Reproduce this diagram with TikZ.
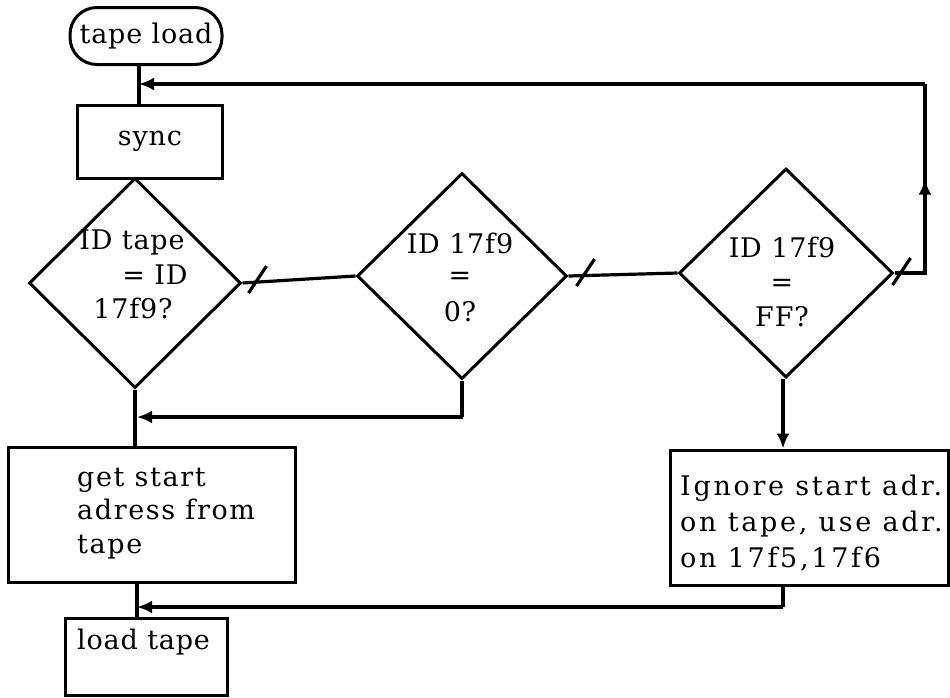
\documentclass[tikz,border=0pt]{standalone}
\usepackage{fontspec}
\setmainfont{DejaVu Serif}
\newfontfamily\fa[LetterSpace=3]{DejaVu Serif}
\newfontfamily\fb[LetterSpace=6]{DejaVu Serif}
\newfontfamily\fc[LetterSpace=10]{DejaVu Serif}
\usetikzlibrary{shapes.geometric,arrows.meta,decorations.markings,calc}
\begin{document}
\begin{tikzpicture}[x=1pt,y=-1pt,
  conn/.style={line width=3.2pt},
  shp/.style={draw,line width=3pt,inner sep=0pt},
  boxnode/.style={shp,rectangle},
  decide/.style={shp,diamond},
  txt/.style={inner sep=0pt,font=\fa\fontsize{27}{33}\selectfont},
  arr/.style={-{Latex[length=15pt,width=13pt]}},
  slashmark/.style={line width=3.2pt}]
\useasboundingbox (0,0) rectangle (950,697);
\fill[white] (0,0) rectangle (950,697);
% nodes
\node[boxnode,rounded corners=27pt,minimum width=152pt,minimum height=57pt] (tl) at (146,36) {};
\node[txt] (tlt) at (146,36) {tape load};
\node[boxnode,minimum width=145pt,minimum height=73pt] (sync) at (150,141.5) {};
\node[txt] (synct) at (150,141) {sync};
\node[decide,minimum width=212pt,minimum height=210pt] (d1) at (135,283) {};
\node[txt] (d1a) at (132,242) {ID tape};
\node[txt] (d1b) at (155,275) {= ID};
\node[txt] (d1c) at (133,308) {17f9?};
\node[decide,minimum width=210pt,minimum height=206pt] (d2) at (462,276) {};
\node[txt] (d2a) at (460,243) {ID 17f9};
\node[txt] (d2b) at (460,278) {=};
\node[txt] (d2c) at (460,312) {0?};
\node[decide,minimum width=214pt,minimum height=209pt] (d3) at (786,273) {};
\node[txt] (d3a) at (782,247) {ID 17f9};
\node[txt] (d3b) at (782,285) {=};
\node[txt] (d3c) at (782,317) {FF?};
\node[boxnode,minimum width=287pt,minimum height=135pt] (gsa) at (151.5,514.5) {};
\node[txt,anchor=west,align=left,font=\fb\fontsize{27}{33.5}\selectfont] (gsat) at (77,513.5) {get start\\adress from\\tape};
\node[boxnode,minimum width=278pt,minimum height=135pt] (ign) at (809,517.5) {};
\node[txt,anchor=west,align=left,font=\fc\fontsize{27}{36}\selectfont] (ignt) at (680,523) {Ignore start adr.\\on tape, use adr.\\on 17f5,17f6};
\node[boxnode,minimum width=162pt,minimum height=77pt] (lt) at (146,656.5) {};
\node[txt,anchor=west] (ltt) at (77,642) {load tape};
% connector coordinates
\coordinate (m1) at (139,84);
\coordinate (r1) at (925,84);
\coordinate (m2) at (137,417);
\coordinate (b2) at (463,417);
\coordinate (m3) at (137,607);
\coordinate (b3) at (783,607);
% connectors
\draw[conn] (tl.south -| m1) -- (sync.north -| m1);
\draw[conn] (sync.south -| d1.north) -- (d1.north);
\draw[conn] (d1.east) -- (d2.west);
\draw[conn] (d2.east) -- (d3.west);
\draw[conn,postaction={decorate},decoration={markings,mark=at position 124pt with {\arrow{Latex[length=15pt,width=13pt]}}}]
  (d3.east) -- (d3.east -| r1) -- (r1);
\draw[conn,arr] (r1) -- (m1);
\draw[conn] (d2.south) -- (d2.south |- b2) -- (b2);
\draw[conn,arr] (b2) -- (m2);
\draw[conn] (d1.south) -- (gsa.north -| d1.south);
\draw[conn,arr] (d3.south -| b3) -- (ign.north -| b3);
\draw[conn] (ign.south -| b3) -- (b3);
\draw[conn,arr] (b3) -- (m3);
\draw[conn] (gsa.south -| m3) -- (lt.north -| m3);
% slash marks
\draw[slashmark] ($(d1.east)+(6,10)$) -- ++(18,-27);
\draw[slashmark] ($(d2.east)+(8,10)$) -- ++(18,-27);
\draw[slashmark] ($(d3.east)+(-2,12)$) -- ++(18,-27);
\end{tikzpicture}
\end{document}
